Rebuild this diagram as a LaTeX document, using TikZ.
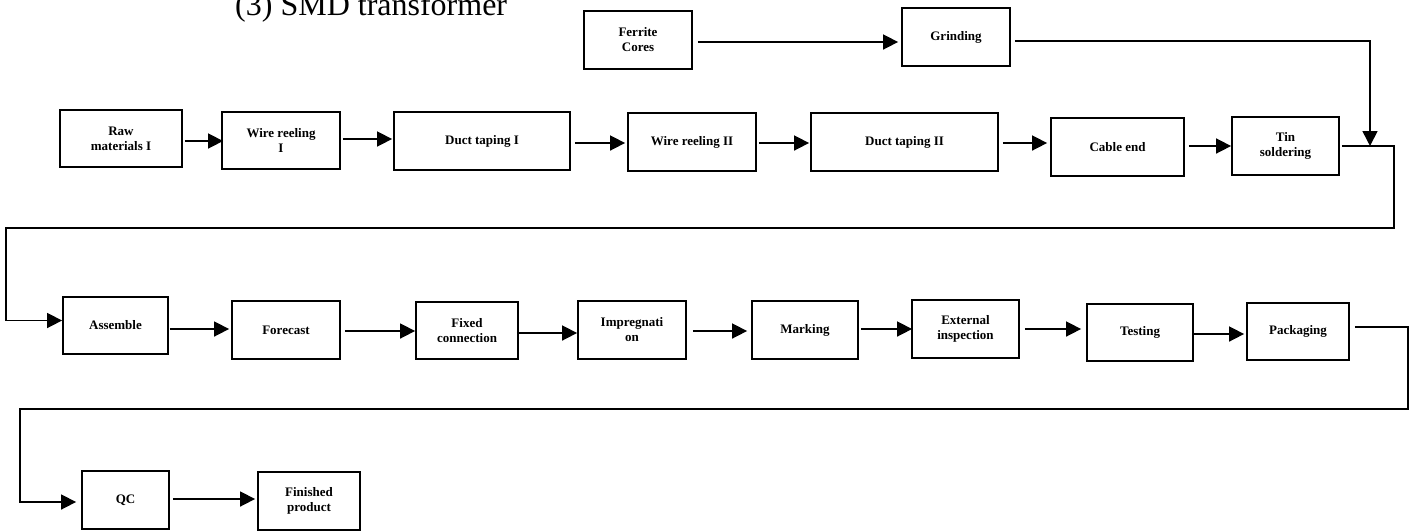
\documentclass[tikz,border=0pt]{standalone}
\usepackage{fontspec}
\setmainfont{Liberation Serif}
\usetikzlibrary{arrows.meta,calc}
\begin{document}
\begin{tikzpicture}[x=1pt,y=-1pt,
  box/.style={draw, line width=1.8pt, inner sep=0pt, align=center,
    font=\fontsize{13}{15}\selectfont\bfseries},
  arr/.style={line width=1.6pt, -{Triangle[length=15pt,width=15pt]}},
  ln/.style={line width=1.6pt}]
\useasboundingbox (0,0) rectangle (1415,531);

\node[anchor=base west, inner sep=0pt, font=\fontsize{32}{36}\selectfont] (title) at (235,15) {(3) SMD transformer};

% row 0
\node[box, minimum width=108pt, minimum height=58pt] (ferrite) at (638,40) {Ferrite\\Cores};
\node[box, minimum width=108pt, minimum height=58pt] (grind) at (956,37) {Grinding};

% row 1
\node[box, minimum width=122pt, minimum height=57pt] (raw) at (121,138.5) {Raw\\materials I};
\node[box, minimum width=118pt, minimum height=57pt] (wr1) at (281,140.5) {Wire reeling\\I};
\node[box, minimum width=176pt, minimum height=58pt] (dt1) at (482,141) {Duct taping I};
\node[box, minimum width=128pt, minimum height=58pt] (wr2) at (692,142) {Wire reeling II};
\node[box, minimum width=187pt, minimum height=58pt] (dt2) at (904.5,142) {Duct taping II};
\node[box, minimum width=133pt, minimum height=58pt] (cable) at (1117.5,147) {Cable end};
\node[box, minimum width=107pt, minimum height=58pt] (tin) at (1285.5,146) {Tin\\soldering};

% row 2
\node[box, minimum width=105pt, minimum height=57pt] (assemble) at (115.5,325.5) {Assemble};
\node[box, minimum width=108pt, minimum height=58pt] (forecast) at (286,330) {Forecast};
\node[box, minimum width=102pt, minimum height=57pt] (fixed) at (467,330.5) {Fixed\\connection};
\node[box, minimum width=108pt, minimum height=58pt] (impreg) at (632,330) {Impregnati\\on};
\node[box, minimum width=106pt, minimum height=58pt] (marking) at (805,330) {Marking};
\node[box, minimum width=107pt, minimum height=58pt] (external) at (965.5,329) {External\\inspection};
\node[box, minimum width=106pt, minimum height=57pt] (testing) at (1140,332.5) {Testing};
\node[box, minimum width=102pt, minimum height=57pt] (packaging) at (1298,331.5) {Packaging};

% row 3
\node[box, minimum width=87pt, minimum height=58pt] (qc) at (125.5,500) {QC};
\node[box, minimum width=102pt, minimum height=58pt] (finished) at (309,501) {Finished\\product};

% helper coordinates
\coordinate (j) at (1370,146);
\coordinate (r1) at (1394,228);
\coordinate (l1) at (6,228);
\coordinate (r2) at (1408,409);
\coordinate (l2) at (20,409);

% connectors
\draw[arr] ([xshift=5pt,yshift=-2pt]ferrite.east) -- ([xshift=-3pt,yshift=-2pt]ferrite.east -| grind.west);
\draw[arr] ([xshift=4pt,yshift=-4pt]grind.east) -| (j);

\draw[arr] ([xshift=2pt,yshift=-2.5pt]raw.east) -- ([xshift=2pt,yshift=-2.5pt]raw.east -| wr1.west);
\draw[arr] ([xshift=2pt,yshift=1.5pt]wr1.east) -- ([xshift=-1pt,yshift=1.5pt]wr1.east -| dt1.west);
\draw[arr] ([xshift=4pt,yshift=-2pt]dt1.east) -- ([xshift=-2pt,yshift=-2pt]dt1.east -| wr2.west);
\draw[arr] ([xshift=2pt,yshift=-1pt]wr2.east) -- ([xshift=-1pt,yshift=-1pt]wr2.east -| dt2.west);
\draw[arr] ([xshift=4pt,yshift=-1pt]dt2.east) -- ([xshift=-3pt,yshift=-1pt]dt2.east -| cable.west);
\draw[arr] ([xshift=4pt,yshift=1pt]cable.east) -- ([yshift=1pt]cable.east -| tin.west);

\draw[arr] ([xshift=2pt]tin.east) -| (r1) -- (l1) |- ([yshift=5pt]assemble.west);

\draw[arr] ([xshift=1pt,yshift=-3.5pt]assemble.east) -- ([xshift=-2pt,yshift=-3.5pt]assemble.east -| forecast.west);
\draw[arr] ([xshift=4pt,yshift=-1pt]forecast.east) -- ([yshift=-1pt]forecast.east -| fixed.west);
\draw[arr] ([xshift=-2pt,yshift=-2.5pt]fixed.east) -- ([yshift=-2.5pt]fixed.east -| impreg.west);
\draw[arr] ([xshift=6pt,yshift=-1pt]impreg.east) -- ([xshift=-4pt,yshift=-1pt]impreg.east -| marking.west);
\draw[arr] ([xshift=2pt,yshift=1pt]marking.east) -- ([xshift=1pt,yshift=1pt]marking.east -| external.west);
\draw[arr] ([xshift=5pt]external.east) -- ([xshift=-5pt]external.east -| testing.west);
\draw[arr] ([yshift=-1.5pt]testing.east) -- ([xshift=-2pt,yshift=-1.5pt]testing.east -| packaging.west);

\draw[arr] ([xshift=5pt,yshift=4.5pt]packaging.east) -| (r2) -- (l2) |- ([xshift=-5pt,yshift=-2pt]qc.west);

\draw[arr] ([xshift=3pt,yshift=1pt]qc.east) -- ([xshift=-2pt,yshift=1pt]qc.east -| finished.west);
\end{tikzpicture}
\end{document}
